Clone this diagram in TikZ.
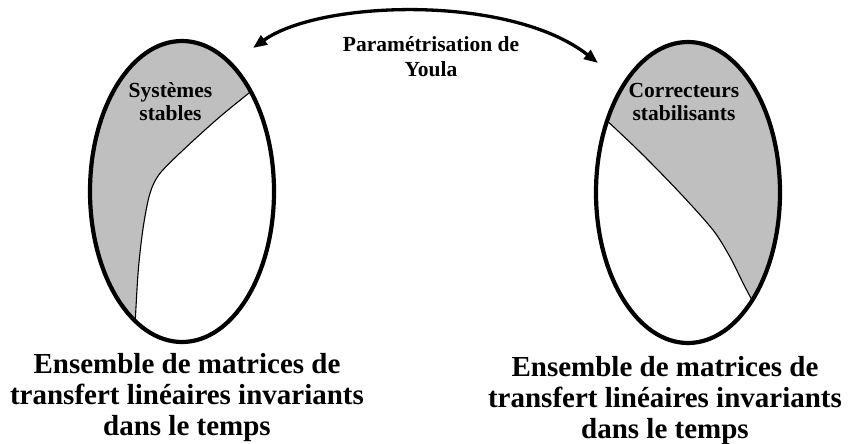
\documentclass[tikz,border=0pt]{standalone}
\usepackage{fontspec}
\setmainfont{Liberation Serif}
\usetikzlibrary{arrows.meta,shapes.geometric}
\begin{document}
\begin{tikzpicture}[x=1pt,y=-1pt,
  ell/.style={ellipse,draw=black,line width=4.2pt,minimum width=184,minimum height=301,inner sep=0pt},
  shade/.style={fill=black!25},
  divider/.style={draw=black,line width=1.1pt},
  lbl/.style={font=\bfseries\fontsize{21.5}{23}\selectfont,align=center,inner sep=0pt,anchor=base},
  toplbl/.style={font=\bfseries\fontsize{21.5}{25}\selectfont,align=center,inner sep=0pt,anchor=base},
  big/.style={font=\bfseries\fontsize{29}{31}\selectfont,align=center,inner sep=0pt,anchor=base},
  link/.style={line width=3.3pt,{Triangle[length=14pt,width=11pt]}-{Triangle[length=14pt,width=11pt]}}
]
\useasboundingbox (0,0) rectangle (854,444);
% left ellipse
\begin{scope}
  \clip (182,191.5) ellipse [x radius=92, y radius=150.5];
  \fill[shade] plot[smooth] coordinates {(254,89) (220,116.7) (186.7,146.7) (160,173.3) (150,193.3) (143.3,226.7) (138.3,270) (135,325) (134,340)}
     -- (0,400) -- (0,0) -- (300,0) -- (300,89) -- cycle;
  \draw[divider] plot[smooth] coordinates {(254,89) (220,116.7) (186.7,146.7) (160,173.3) (150,193.3) (143.3,226.7) (138.3,270) (135,325) (134,340)};
\end{scope}
\node[ell] (L) at (182,191.5) {};
% right ellipse
\begin{scope}
  \clip (688,192.5) ellipse [x radius=92, y radius=150.5];
  \fill[shade] plot[smooth] coordinates {(603,117) (640,152) (680,193) (713,230) (730,257) (743,283) (755,306)}
     -- (900,306) -- (900,0) -- (500,0) -- (500,117) -- cycle;
  \draw[divider] plot[smooth] coordinates {(603,117) (640,152) (680,193) (713,230) (730,257) (743,283) (755,306)};
\end{scope}
\node[ell] (R) at (688,192.5) {};
% labels
\node[lbl] (ls) at (170.5,120) {Systèmes\\stables};
\node[lbl] (rs) at (684,120) {Correcteurs\\stabilisants};
\node[toplbl] (yo) at (431,77) {Paramétrisation de\\Youla};
\coordinate (a1) at (253,48);
\coordinate (a2) at (598,63);
\draw[link] (a1) .. controls (320,0) and (510,-6) .. (a2);
% bottom texts
\node[big] (lb) at (187,435) {Ensemble de matrices de\\transfert linéaires invariants\\dans le temps};
\node[big] (rb) at (665,438) {Ensemble de matrices de\\transfert linéaires invariants\\dans le temps};
\end{tikzpicture}
\end{document}
